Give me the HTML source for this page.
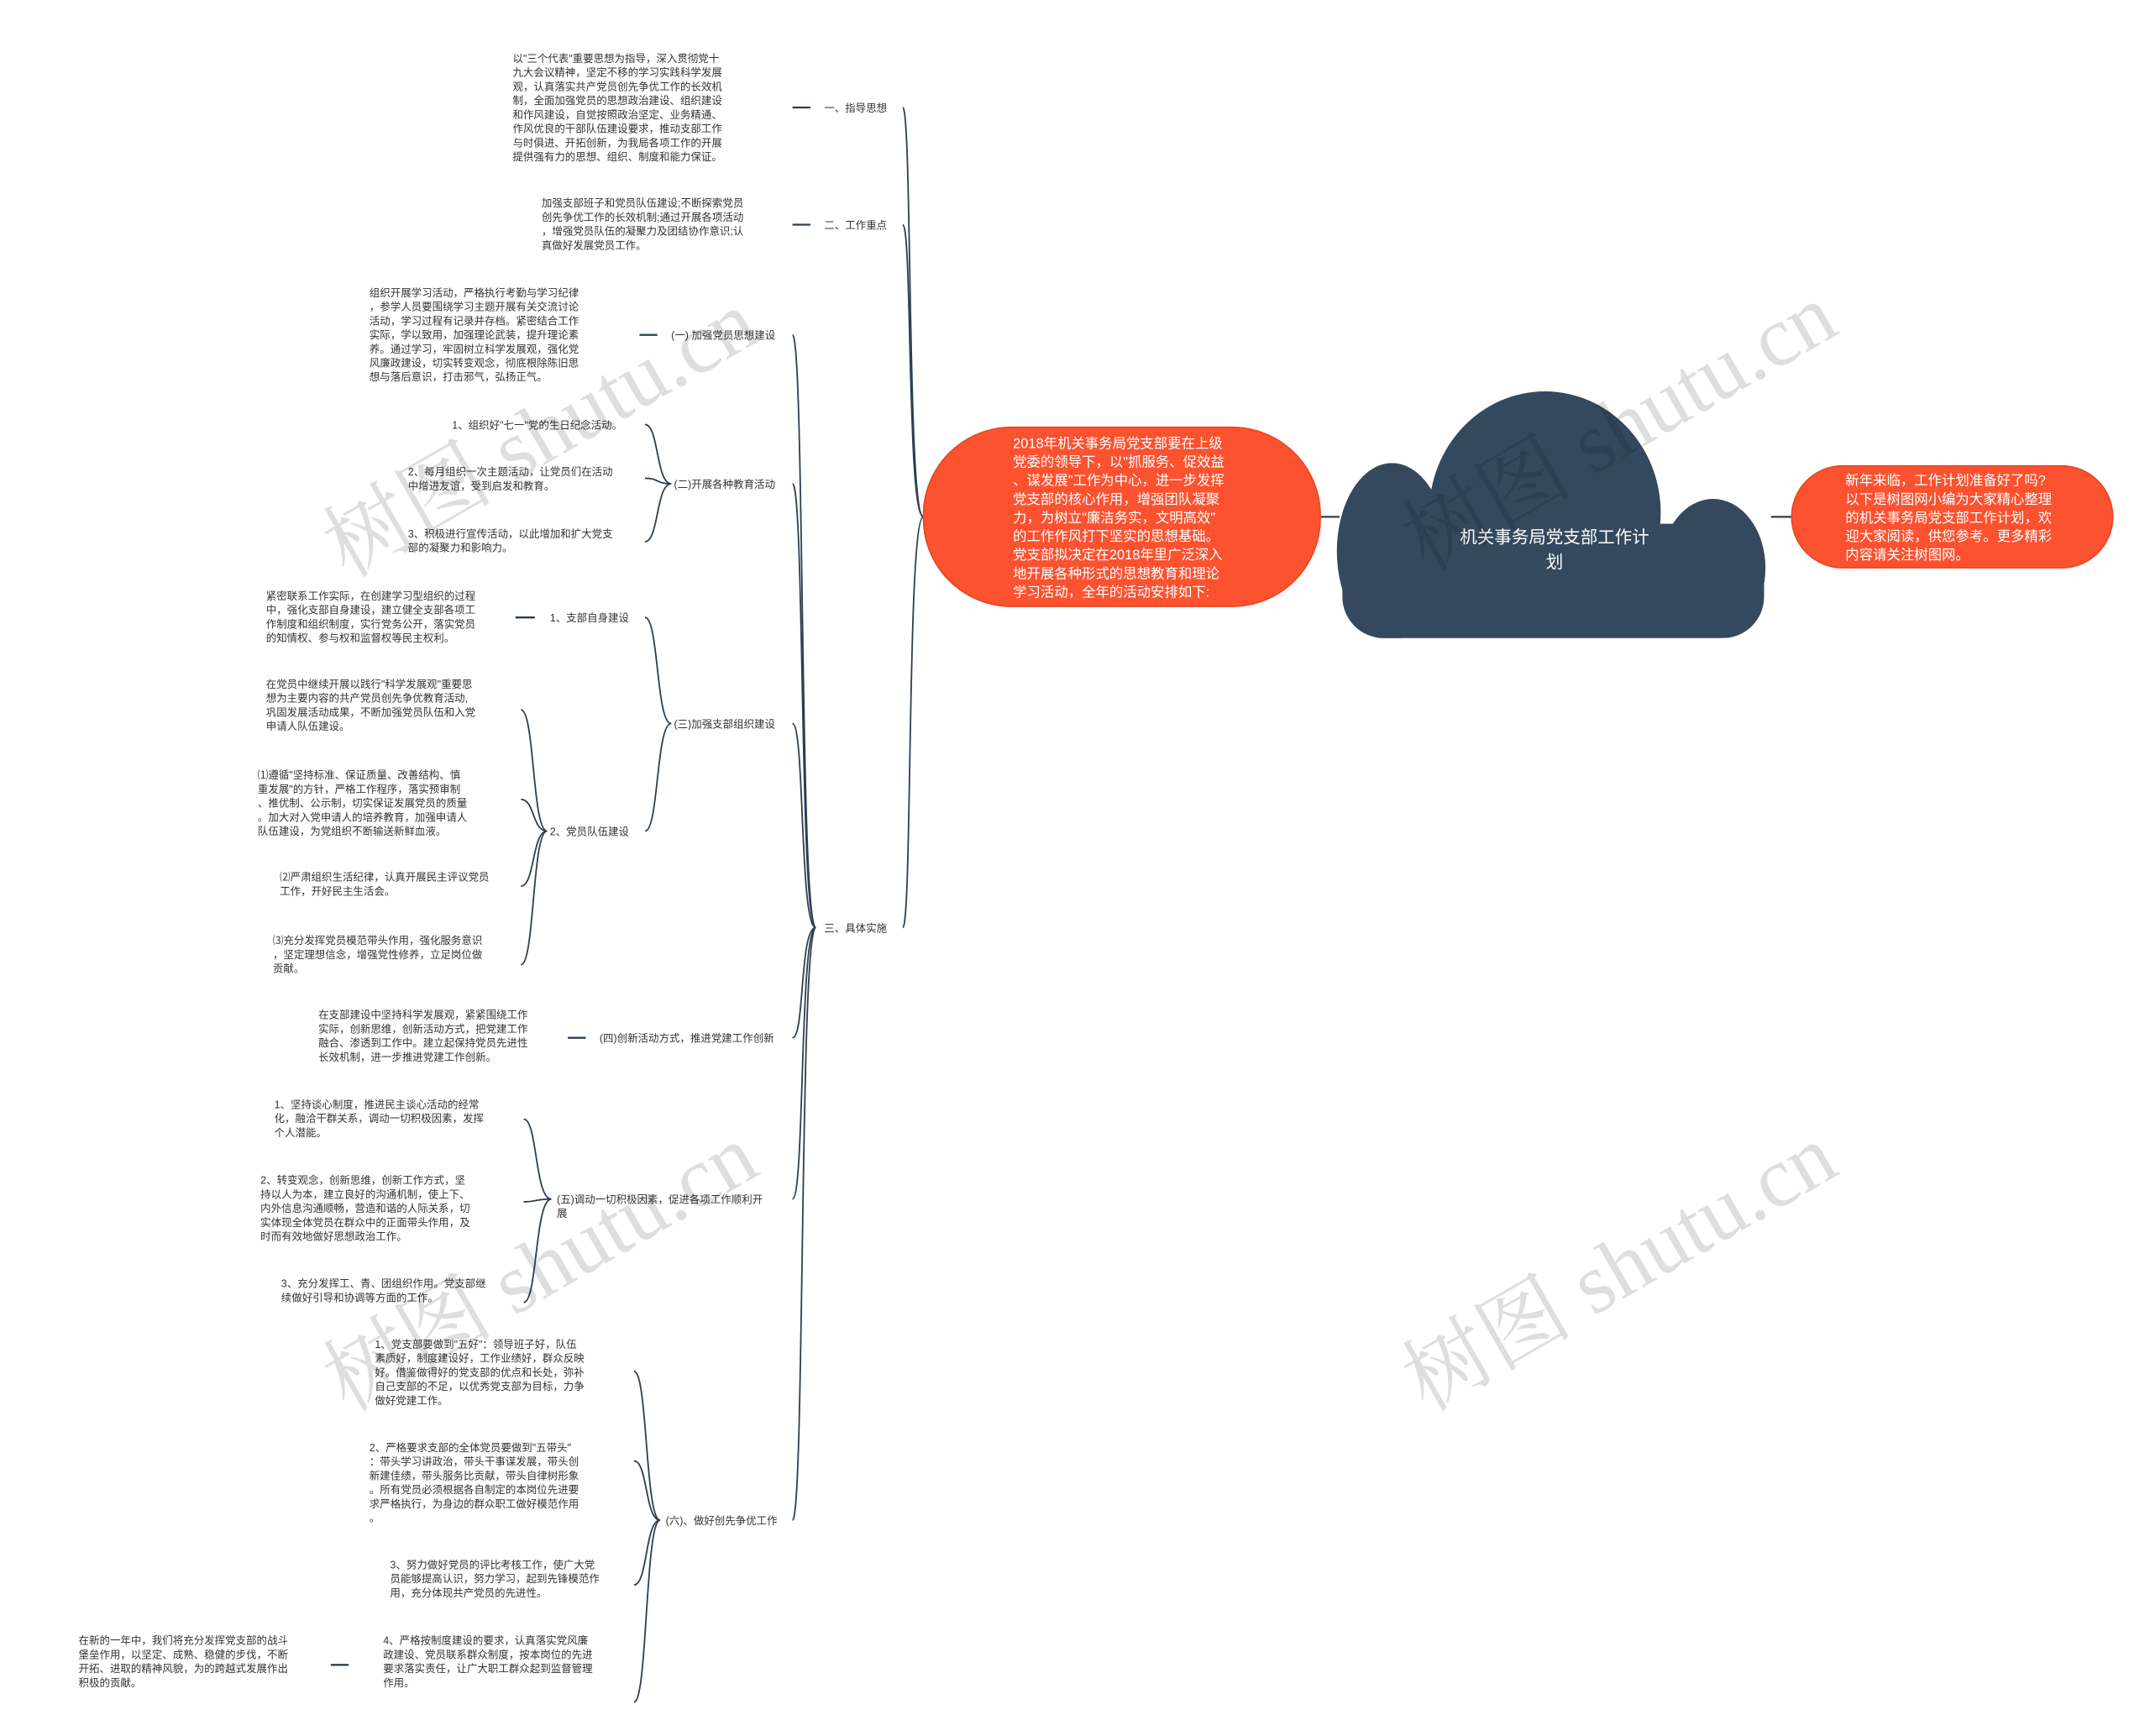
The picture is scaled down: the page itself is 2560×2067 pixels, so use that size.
<!DOCTYPE html>
<html><head><meta charset="utf-8"><style>
html,body{margin:0;padding:0;background:#fff;width:2560px;height:2067px;overflow:hidden}
svg{display:block}
text{font-family:"Liberation Sans","Noto Sans CJK SC",sans-serif}
.t{font-size:7.6px;fill:#333}
.l{font-size:7.6px;fill:#333}
.w{font-size:10px;fill:#fff}
.c{stroke:#2c3e50;stroke-width:1.1;fill:none}
.d{stroke:#2c3e50;stroke-width:1.4}
.wm{font-size:62px;fill:#000;fill-opacity:0.13;font-family:"Liberation Serif","Noto Serif CJK SC",serif}
</style></head><body>
<svg width="2560" height="2067" viewBox="0 0 1560 1259.6" xmlns="http://www.w3.org/2000/svg">
<defs><clipPath id="cc"><rect x="900" y="250" width="450" height="213"/></clipPath></defs>
<path class="c" d="M670,375 C658,375 662,78 655,78"/>
<path class="c" d="M670,375 C658,375 662,163 655,163"/>
<path class="c" d="M670,375 C658,375 662,673 655,673"/>
<line class="d" x1="958" y1="375" x2="972" y2="375"/>
<line class="d" x1="1285" y1="375" x2="1300" y2="375"/>
<path class="c" d="M592,673 C580,673 584,243 575,243"/>
<path class="c" d="M592,673 C580,673 584,351 575,351"/>
<path class="c" d="M592,673 C580,673 584,525 575,525"/>
<path class="c" d="M592,673 C580,673 584,753 575,753"/>
<path class="c" d="M592,673 C580,673 584,870 575,870"/>
<path class="c" d="M592,673 C580,673 584,1103 575,1103"/>
<path class="c" d="M487,351 C476,351 478,308 468,308"/>
<path class="c" d="M487,351 C476,351 478,347 468,347"/>
<path class="c" d="M487,351 C476,351 478,393 468,393"/>
<path class="c" d="M487,525 C476,525 478,448 468,448"/>
<path class="c" d="M487,525 C476,525 478,603 468,603"/>
<path class="c" d="M397,603 C386,603 388,515 378,515"/>
<path class="c" d="M397,603 C386,603 388,580 378,580"/>
<path class="c" d="M397,603 C386,603 388,643 378,643"/>
<path class="c" d="M397,603 C386,603 388,700 378,700"/>
<path class="c" d="M400,870 C388,870 390,812 380,812"/>
<path class="c" d="M400,870 C388,870 390,872 380,872"/>
<path class="c" d="M400,870 C388,870 390,945 380,945"/>
<path class="c" d="M479,1103 C468,1103 470,995 460,995"/>
<path class="c" d="M479,1103 C468,1103 470,1060 460,1060"/>
<path class="c" d="M479,1103 C468,1103 470,1150 460,1150"/>
<path class="c" d="M479,1103 C468,1103 470,1235 460,1235"/>
<line class="d" x1="575" y1="78" x2="588" y2="78"/>
<line class="d" x1="575" y1="163" x2="588" y2="163"/>
<line class="d" x1="464" y1="243" x2="477" y2="243"/>
<line class="d" x1="374" y1="448" x2="388" y2="448"/>
<line class="d" x1="412" y1="753" x2="425" y2="753"/>
<line class="d" x1="240" y1="1208" x2="253" y2="1208"/>

<g fill="#34495e" clip-path="url(#cc)">
<ellipse cx="1121" cy="372" rx="84" ry="88"/>
<ellipse cx="1010" cy="400" rx="40" ry="64"/>
<ellipse cx="1243" cy="412" rx="38" ry="50"/>
<rect x="974" y="380" width="306" height="83" rx="30"/>
<rect x="1000" y="420" width="250" height="43"/>
</g>
<text x="1128" y="394" text-anchor="middle" style="font-size:12.5px;fill:#fff">机关事务局党支部工作计</text>
<text x="1128" y="412" text-anchor="middle" style="font-size:12.5px;fill:#fff">划</text>

<rect x="670" y="310" width="288" height="130" rx="64" fill="#fc5230" stroke="#e8461f" stroke-width="1"/>
<rect x="1300" y="338" width="233" height="74" rx="37" fill="#fc5230" stroke="#e8461f" stroke-width="1"/>
<g class="w">
<text x="735" y="325">2018年机关事务局党支部要在上级</text>
<text x="735" y="338.5">党委的领导下，以"抓服务、促效益</text>
<text x="735" y="352">、谋发展"工作为中心，进一步发挥</text>
<text x="735" y="365.5">党支部的核心作用，增强团队凝聚</text>
<text x="735" y="379">力，为树立"廉洁务实，文明高效"</text>
<text x="735" y="392.5">的工作作风打下坚实的思想基础。</text>
<text x="735" y="406">党支部拟决定在2018年里广泛深入</text>
<text x="735" y="419.5">地开展各种形式的思想教育和理论</text>
<text x="735" y="433">学习活动，全年的活动安排如下:</text>
<text x="1339" y="352">新年来临，工作计划准备好了吗?</text>
<text x="1339" y="365.5">以下是树图网小编为大家精心整理</text>
<text x="1339" y="379">的机关事务局党支部工作计划，欢</text>
<text x="1339" y="392.5">迎大家阅读，供您参考。更多精彩</text>
<text x="1339" y="406">内容请关注树图网。</text>
</g>

<g class="l">
<text x="598" y="81">一、指导思想</text>
<text x="598" y="166">二、工作重点</text>
<text x="598" y="676">三、具体实施</text>
<text x="487" y="246">(一) 加强党员思想建设</text>
<text x="489" y="354">(二)开展各种教育活动</text>
<text x="489" y="528">(三)加强支部组织建设</text>
<text x="399" y="451">1、支部自身建设</text>
<text x="399" y="606">2、党员队伍建设</text>
<text x="435" y="756">(四)创新活动方式，推进党建工作创新</text>
<text x="404" y="873">(五)调动一切积极因素，促进各项工作顺利开</text>
<text x="404" y="883">展</text>
<text x="483" y="1106">(六)、做好创先争优工作</text>
</g>

<g class="t">
<text x="372" y="45">以"三个代表"重要思想为指导，深入贯彻党十<tspan x="372" dy="10.2">九大会议精神，坚定不移的学习实践科学发展</tspan><tspan x="372" dy="10.2">观，认真落实共产党员创先争优工作的长效机</tspan><tspan x="372" dy="10.2">制，全面加强党员的思想政治建设、组织建设</tspan><tspan x="372" dy="10.2">和作风建设，自觉按照政治坚定、业务精通、</tspan><tspan x="372" dy="10.2">作风优良的干部队伍建设要求，推动支部工作</tspan><tspan x="372" dy="10.2">与时俱进、开拓创新，为我局各项工作的开展</tspan><tspan x="372" dy="10.2">提供强有力的思想、组织、制度和能力保证。</tspan></text>
<text x="393" y="150">加强支部班子和党员队伍建设;不断探索党员<tspan x="393" dy="10.2">创先争优工作的长效机制;通过开展各项活动</tspan><tspan x="393" dy="10.2">，增强党员队伍的凝聚力及团结协作意识;认</tspan><tspan x="393" dy="10.2">真做好发展党员工作。</tspan></text>
<text x="268" y="215">组织开展学习活动，严格执行考勤与学习纪律<tspan x="268" dy="10.2">，参学人员要围绕学习主题开展有关交流讨论</tspan><tspan x="268" dy="10.2">活动，学习过程有记录并存档。紧密结合工作</tspan><tspan x="268" dy="10.2">实际，学以致用，加强理论武装，提升理论素</tspan><tspan x="268" dy="10.2">养。通过学习，牢固树立科学发展观，强化党</tspan><tspan x="268" dy="10.2">风廉政建设，切实转变观念，彻底根除陈旧思</tspan><tspan x="268" dy="10.2">想与落后意识，打击邪气，弘扬正气。</tspan></text>
<text x="328" y="311">1、组织好"七一"党的生日纪念活动。</text>
<text x="296" y="345">2、每月组织一次主题活动，让党员们在活动<tspan x="296" dy="10.2">中增进友谊，受到启发和教育。</tspan></text>
<text x="296" y="390">3、积极进行宣传活动，以此增加和扩大党支<tspan x="296" dy="10.2">部的凝聚力和影响力。</tspan></text>
<text x="193" y="435">紧密联系工作实际，在创建学习型组织的过程<tspan x="193" dy="10.2">中，强化支部自身建设，建立健全支部各项工</tspan><tspan x="193" dy="10.2">作制度和组织制度，实行党务公开，落实党员</tspan><tspan x="193" dy="10.2">的知情权、参与权和监督权等民主权利。</tspan></text>
<text x="193" y="499">在党员中继续开展以践行"科学发展观"重要思<tspan x="193" dy="10.2">想为主要内容的共产党员创先争优教育活动,</tspan><tspan x="193" dy="10.2">巩固发展活动成果，不断加强党员队伍和入党</tspan><tspan x="193" dy="10.2">申请人队伍建设。</tspan></text>
<text x="187" y="565">⑴遵循"坚持标准、保证质量、改善结构、慎<tspan x="187" dy="10.2">重发展"的方针，严格工作程序，落实预审制</tspan><tspan x="187" dy="10.2">、推优制、公示制，切实保证发展党员的质量</tspan><tspan x="187" dy="10.2">。加大对入党申请人的培养教育，加强申请人</tspan><tspan x="187" dy="10.2">队伍建设，为党组织不断输送新鲜血液。</tspan></text>
<text x="203" y="639">⑵严肃组织生活纪律，认真开展民主评议党员<tspan x="203" dy="10.2">工作，开好民主生活会。</tspan></text>
<text x="198" y="685">⑶充分发挥党员模范带头作用，强化服务意识<tspan x="198" dy="10.2">，坚定理想信念，增强党性修养，立足岗位做</tspan><tspan x="198" dy="10.2">贡献。</tspan></text>
<text x="231" y="739">在支部建设中坚持科学发展观，紧紧围绕工作<tspan x="231" dy="10.2">实际，创新思维，创新活动方式，把党建工作</tspan><tspan x="231" dy="10.2">融合、渗透到工作中。建立起保持党员先进性</tspan><tspan x="231" dy="10.2">长效机制，进一步推进党建工作创新。</tspan></text>
<text x="199" y="804">1、坚持谈心制度，推进民主谈心活动的经常<tspan x="199" dy="10.2">化，融洽干群关系，调动一切积极因素，发挥</tspan><tspan x="199" dy="10.2">个人潜能。</tspan></text>
<text x="189" y="859">2、转变观念，创新思维，创新工作方式，坚<tspan x="189" dy="10.2">持以人为本，建立良好的沟通机制，使上下、</tspan><tspan x="189" dy="10.2">内外信息沟通顺畅，营造和谐的人际关系，切</tspan><tspan x="189" dy="10.2">实体现全体党员在群众中的正面带头作用，及</tspan><tspan x="189" dy="10.2">时而有效地做好思想政治工作。</tspan></text>
<text x="204" y="934">3、充分发挥工、青、团组织作用。党支部继<tspan x="204" dy="10.2">续做好引导和协调等方面的工作。</tspan></text>
<text x="272" y="978">1、党支部要做到"五好"：领导班子好，队伍<tspan x="272" dy="10.2">素质好，制度建设好，工作业绩好，群众反映</tspan><tspan x="272" dy="10.2">好。借鉴做得好的党支部的优点和长处，弥补</tspan><tspan x="272" dy="10.2">自己支部的不足，以优秀党支部为目标，力争</tspan><tspan x="272" dy="10.2">做好党建工作。</tspan></text>
<text x="268" y="1053">2、严格要求支部的全体党员要做到"五带头"<tspan x="268" dy="10.2">：带头学习讲政治，带头干事谋发展，带头创</tspan><tspan x="268" dy="10.2">新建佳绩，带头服务比贡献，带头自律树形象</tspan><tspan x="268" dy="10.2">。所有党员必须根据各自制定的本岗位先进要</tspan><tspan x="268" dy="10.2">求严格执行，为身边的群众职工做好模范作用</tspan><tspan x="268" dy="10.2">。</tspan></text>
<text x="283" y="1138">3、努力做好党员的评比考核工作，使广大党<tspan x="283" dy="10.2">员能够提高认识，努力学习，起到先锋模范作</tspan><tspan x="283" dy="10.2">用，充分体现共产党员的先进性。</tspan></text>
<text x="278" y="1193">4、严格按制度建设的要求，认真落实党风廉<tspan x="278" dy="10.2">政建设、党员联系群众制度，按本岗位的先进</tspan><tspan x="278" dy="10.2">要求落实责任，让广大职工群众起到监督管理</tspan><tspan x="278" dy="10.2">作用。</tspan></text>
<text x="57" y="1193">在新的一年中，我们将充分发挥党支部的战斗<tspan x="57" dy="10.2">堡垒作用，以坚定、成熟、稳健的步伐，不断</tspan><tspan x="57" dy="10.2">开拓、进取的精神风貌，为的跨越式发展作出</tspan><tspan x="57" dy="10.2">积极的贡献。</tspan></text>
</g>

<text class="wm" x="395" y="335" text-anchor="middle" transform="rotate(-30 395 320)">树图 shutu.cn</text>
<text class="wm" x="1178" y="330" text-anchor="middle" transform="rotate(-30 1178 315)">树图 shutu.cn</text>
<text class="wm" x="395" y="940" text-anchor="middle" transform="rotate(-30 395 925)">树图 shutu.cn</text>
<text class="wm" x="1178" y="940" text-anchor="middle" transform="rotate(-30 1178 925)">树图 shutu.cn</text>
</svg>
</body></html>
